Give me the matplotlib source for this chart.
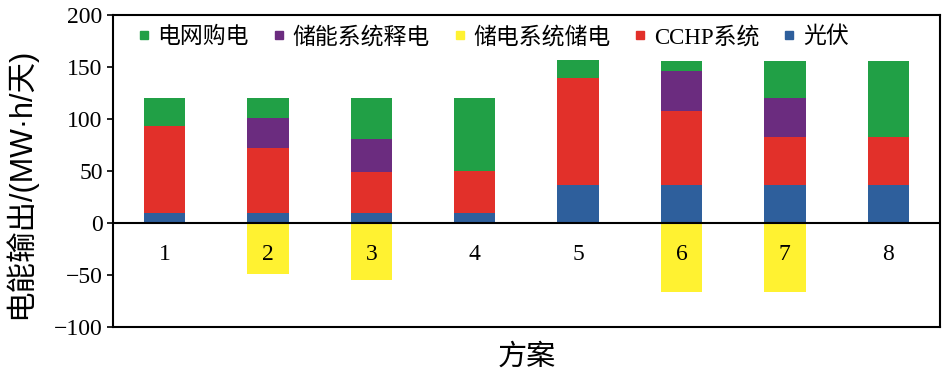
import numpy as np
import matplotlib
matplotlib.use("Agg")
import matplotlib.pyplot as plt
from matplotlib.lines import Line2D

plt.rcParams['font.family'] = ['Liberation Serif', 'Noto Sans CJK SC']

# 方案 1..8
schemes = ['1', '2', '3', '4', '5', '6', '7', '8']
pv      = [10, 10, 10, 10, 37, 37, 37, 37]          # 光伏
cchp    = [83.5, 62, 39.5, 40, 102, 71, 45.5, 45.5]  # CCHP系统
release = [0, 29, 31.5, 0, 0, 38, 37.5, 0]          # 储能系统释电
grid    = [26.5, 19, 39, 70, 18, 9.6, 35.6, 73]     # 电网购电
store   = [0, -49.5, -55, 0, 0, -66.5, -66.5, 0]    # 储电系统储电

labels = ['电网购电', '储能系统释电', '储电系统储电', 'CCHP系统', '光伏']
colors = {'grid': '#21a046', 'release': '#6b2c7f', 'store': '#fff231',
          'cchp': '#e2302a', 'pv': '#2e5f9c'}

fig = plt.figure(figsize=(9.45, 3.75), dpi=100)
ax = fig.add_axes([0.1196, 0.128, 0.875, 0.832])

x = np.arange(len(schemes))
w = 0.4
b1 = np.array(pv)
b2 = b1 + np.array(cchp)
b3 = b2 + np.array(release)
ax.bar(x, pv, w, color=colors['pv'])
ax.bar(x, cchp, w, bottom=b1, color=colors['cchp'])
ax.bar(x, release, w, bottom=b2, color=colors['release'])
ax.bar(x, grid, w, bottom=b3, color=colors['grid'])
ax.bar(x, store, w, color=colors['store'])

ax.axhline(0, color='black', linewidth=1.5, zorder=3)
ax.set_xlim(-0.5, len(schemes) - 0.5)
ax.set_ylim(-100, 200)
ax.set_yticks([-100, -50, 0, 50, 100, 150, 200])
ax.set_yticklabels(['\u2212100', '\u221250', '0', '50', '100', '150', '200'])
ax.tick_params(axis='y', labelsize=17, direction='out', length=4, width=1.2)
ax.set_xticks([])
for s in ax.spines.values():
    s.set_linewidth(1.5)

for xi, name in zip(x, schemes):
    ax.text(xi, -30, name, ha='center', va='center', fontsize=17)

ax.set_xlabel('方案', fontsize=21, labelpad=12)
ax.set_ylabel('电能输出/(MW·h/天)', fontsize=22,
              family=['Liberation Sans', 'Noto Sans CJK SC'])
ax.yaxis.set_label_coords(-0.093, 0.46)

handles = [Line2D([], [], linestyle='none', marker='s', markersize=6,
                  color=c) for c in [colors['grid'], colors['release'],
                                     colors['store'], colors['cchp'], colors['pv']]]
ax.legend(handles, labels, loc='upper left', ncol=5, frameon=False,
          fontsize=16.5, handlelength=0.6, handletextpad=0.3,
          columnspacing=1.0, borderaxespad=0.1, bbox_to_anchor=(0.015, 1.0))

fig.savefig('out.png', dpi=100)
